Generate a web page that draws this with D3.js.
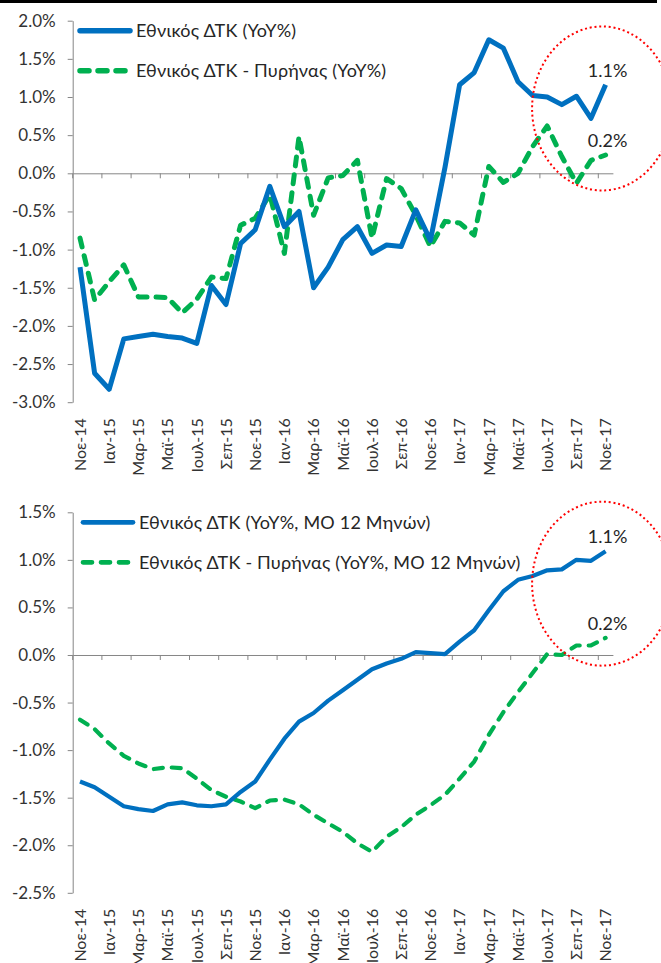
<!DOCTYPE html>
<html>
<head>
  <meta charset="utf-8">
  <title>ΔΤΚ</title>
  <script src="https://d3js.org/d3.v7.min.js"></script>
  <style>
    body { margin: 0; background: #fff; }
    svg { display: block; font-family: Lato, "Open Sans", sans-serif; }
    .axis path, .axis line { stroke: #868686; }
  </style>
</head>
<body>
<svg id="chart" width="661" height="963"></svg>
<script>

// months Nov-14 .. Nov-17
var months = ["Νοε-14","Δεκ-14","Ιαν-15","Φεβ-15","Μαρ-15","Απρ-15","Μαϊ-15","Ιουν-15",
  "Ιουλ-15","Αυγ-15","Σεπ-15","Οκτ-15","Νοε-15","Δεκ-15","Ιαν-16","Φεβ-16","Μαρ-16",
  "Απρ-16","Μαϊ-16","Ιουν-16","Ιουλ-16","Αυγ-16","Σεπ-16","Οκτ-16","Νοε-16","Δεκ-16",
  "Ιαν-17","Φεβ-17","Μαρ-17","Απρ-17","Μαϊ-17","Ιουν-17","Ιουλ-17","Αυγ-17","Σεπ-17",
  "Οκτ-17","Νοε-17"];

// top chart: YoY %
var cpiYoY = [-1.23,-2.62,-2.83,-2.17,-2.14,-2.11,-2.14,-2.16,-2.23,-1.47,-1.72,-0.92,
  -0.74,-0.17,-0.70,-0.50,-1.50,-1.23,-0.87,-0.70,-1.05,-0.94,-0.96,-0.48,-0.88,0.08,
  1.16,1.32,1.75,1.64,1.20,1.02,1.00,0.90,1.01,0.72,1.16];
var coreYoY = [-0.85,-1.66,-1.42,-1.20,-1.62,-1.62,-1.63,-1.83,-1.65,-1.36,-1.38,-0.68,
  -0.59,-0.28,-1.05,0.48,-0.55,-0.06,-0.03,0.17,-0.85,-0.07,-0.20,-0.55,-0.96,-0.63,
  -0.65,-0.81,0.09,-0.12,0.00,0.35,0.62,0.22,-0.13,0.17,0.24];

// bottom chart: YoY %, 12-month average
var cpi12m = [-1.33,-1.39,-1.49,-1.59,-1.62,-1.64,-1.57,-1.55,-1.58,-1.59,-1.57,-1.44,
  -1.33,-1.10,-0.88,-0.70,-0.61,-0.48,-0.37,-0.26,-0.15,-0.09,-0.04,0.03,0.02,0.01,
  0.14,0.26,0.47,0.67,0.79,0.83,0.89,0.90,1.00,0.99,1.09];
var core12m = [-0.68,-0.78,-0.93,-1.06,-1.14,-1.20,-1.18,-1.19,-1.30,-1.42,-1.49,-1.54,
  -1.61,-1.53,-1.52,-1.57,-1.68,-1.77,-1.86,-1.98,-2.07,-1.91,-1.81,-1.68,-1.58,-1.47,
  -1.30,-1.12,-0.84,-0.60,-0.39,-0.19,0.01,0.00,0.10,0.10,0.18];

var topTicks = [2.0,1.5,1.0,0.5,0.0,-0.5,-1.0,-1.5,-2.0,-2.5,-3.0];
var botTicks = [1.5,1.0,0.5,0.0,-0.5,-1.0,-1.5,-2.0,-2.5];

var topLegend = ["Εθνικός ΔΤΚ (YoY%)", "Εθνικός ΔΤΚ - Πυρήνας (YoY%)"];
var botLegend = ["Εθνικός ΔΤΚ (YoY%, ΜΟ 12 Μηνών)", "Εθνικός ΔΤΚ - Πυρήνας (YoY%, ΜΟ 12 Μηνών)"];
var topNotes = ["1.1%", "0.2%"];
var botNotes = ["1.1%", "0.2%"];

var BLUE = "#0070C0", GREEN = "#00B050";

var svg = d3.select("#chart");
svg.append("rect").attr("width", 661).attr("height", 963).attr("fill", "#fff");
svg.append("rect").attr("x", 0).attr("y", 0).attr("width", 657).attr("height", 3).attr("fill", "#000");

var x = d3.scaleBand().domain(d3.range(months.length)).range([72.7, 612.9]).padding(0);
var xc = function(i) { return x(i) + x.bandwidth() / 2; };
var everyOther = d3.range(0, months.length, 2);

function drawChart(opt) {
  var y = opt.y;
  var g = svg.append("g");
  var lo = y.domain()[0];

  // y axis
  g.append("g").attr("class", "axis")
    .attr("transform", "translate(" + x.range()[0] + ",0)")
    .call(d3.axisLeft(y).tickValues(opt.ticks).tickSize(5).tickSizeOuter(0).tickPadding(12)
      .tickFormat(function(d) { return d.toFixed(1) + "%"; }))
    .call(function(a) {
      a.selectAll("text").attr("fill", "#333").style("font-size", "17px").style("font-family", "Lato");
    });

  // zero line with ticks on category boundaries
  g.append("g").attr("class", "axis")
    .attr("transform", "translate(0," + y(0) + ")")
    .call(d3.axisBottom(x).tickValues(everyOther).tickSize(5).tickSizeOuter(0).tickFormat(""))
    .call(function(a) {
      a.selectAll(".tick line").attr("transform", "translate(" + (-x.bandwidth() / 2) + ",0)");
    });

  // month labels at the bottom
  g.append("g")
    .attr("transform", "translate(0," + y(lo) + ")")
    .call(d3.axisBottom(x).tickValues(everyOther).tickSize(0)
      .tickFormat(function(i) { return months[i]; }))
    .call(function(a) {
      a.select(".domain").remove();
      a.selectAll("text")
        .attr("x", 0).attr("y", 0).attr("dy", "0.36em")
        .attr("transform", "translate(0,16) rotate(-90)")
        .attr("fill", "#333")
        .style("text-anchor", "end")
        .style("font-size", "16px").style("font-family", "Lato");
    });

  var line = d3.line().x(function(d, i) { return xc(i); }).y(function(d) { return y(d); });

  g.append("path").datum(opt.core)
    .attr("d", line).attr("fill", "none")
    .attr("stroke", GREEN).attr("stroke-width", opt.w)
    .attr("stroke-dasharray", opt.dash).attr("stroke-linecap", "round").attr("stroke-linejoin", "round");
  g.append("path").datum(opt.cpi)
    .attr("d", line).attr("fill", "none")
    .attr("stroke", BLUE).attr("stroke-width", opt.w)
    .attr("stroke-linejoin", "round");

  // legend
  var lg = g.append("g").attr("transform", "translate(" + opt.legX + "," + opt.legY + ")");
  lg.append("line").attr("x1", 0).attr("x2", 50).attr("y1", 0).attr("y2", 0)
    .attr("stroke", BLUE).attr("stroke-width", opt.w + 0.5).attr("stroke-linecap", "round");
  lg.append("line").attr("x1", 0).attr("x2", 50).attr("y1", 40).attr("y2", 40)
    .attr("stroke", GREEN).attr("stroke-width", opt.w + 0.5).attr("stroke-linecap", "round")
    .attr("stroke-dasharray", opt.dash);
  lg.selectAll("text").data(opt.legend).enter().append("text")
    .attr("x", 56).attr("y", function(d, i) { return i * 40; }).attr("dy", "0.36em")
    .attr("fill", "#262626").style("font-size", "18px").style("letter-spacing", "0.2px")
    .text(function(d) { return d; });

  // end-point notes
  var last = months.length - 1;
  g.selectAll(".note").data([opt.cpi[last], opt.core[last]]).enter().append("text")
    .attr("class", "note")
    .attr("x", xc(last) + 2).attr("y", function(d) { return y(d) - 8; })
    .attr("text-anchor", "middle").attr("fill", "#262626").style("font-size", "18px")
    .text(function(d, i) { return opt.notes[i]; });

  // red dotted ellipse
  g.append("ellipse")
    .attr("cx", xc(last) - 3.5).attr("cy", opt.ecy)
    .attr("rx", 70).attr("ry", 82)
    .attr("fill", "none").attr("stroke", "#FF0000").attr("stroke-width", 2)
    .attr("stroke-dasharray", "2,2.8");
}

var yTop = d3.scaleLinear().domain([-3, 2]).range([402.2, 20.7]);
var yBot = d3.scaleLinear().domain([-2.5, 1.5]).range([892.8, 512.3]);

drawChart({ y: yTop, ticks: topTicks, cpi: cpiYoY, core: coreYoY, legend: topLegend,
  notes: topNotes, w: 5, dash: "9,9", legX: 80, legY: 30.7, ecy: yTop(0.85) });
drawChart({ y: yBot, ticks: botTicks, cpi: cpi12m, core: core12m, legend: botLegend,
  notes: botNotes, w: 4.2, dash: "9,9", legX: 83, legY: 522.3, ecy: yBot(0.75) });

</script>
</body>
</html>
